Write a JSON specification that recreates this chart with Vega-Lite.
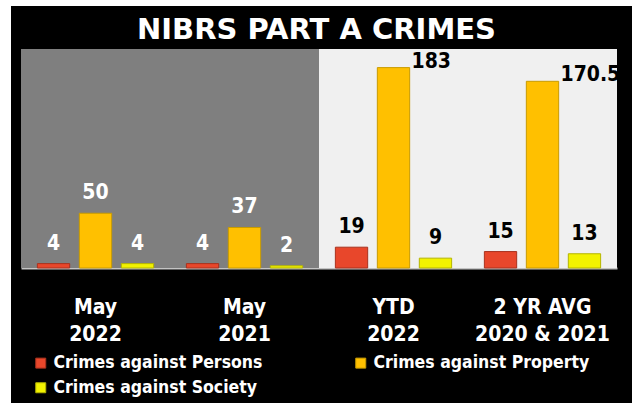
{
  "$schema": "https://vega.github.io/schema/vega-lite/v6.json",
  "width": 621,
  "height": 397,
  "autosize": {"type": "none"},
  "padding": {"left": 11, "top": 6, "right": 0, "bottom": 0},
  "background": "#ffffff",
  "config": {
    "view": {"fill": "#000000", "stroke": null},
    "font": "DejaVu Sans Condensed"
  },
  "title": {
    "text": "NIBRS PART A CRIMES",
    "color": "#ffffff",
    "font": "DejaVu Sans",
    "fontSize": 29,
    "fontWeight": "bold",
    "anchor": "middle",
    "frame": "group",
    "baseline": "alphabetic",
    "offset": -31,
    "dy": 31,
    "dx": -5
  },
  "data": {
    "values": [
      {"period": "May 2022", "type": "Crimes against Persons", "count": 4},
      {"period": "May 2022", "type": "Crimes against Property", "count": 50},
      {"period": "May 2022", "type": "Crimes against Society", "count": 4},
      {"period": "May 2021", "type": "Crimes against Persons", "count": 4},
      {"period": "May 2021", "type": "Crimes against Property", "count": 37},
      {"period": "May 2021", "type": "Crimes against Society", "count": 2},
      {"period": "YTD 2022", "type": "Crimes against Persons", "count": 19},
      {"period": "YTD 2022", "type": "Crimes against Property", "count": 183},
      {"period": "YTD 2022", "type": "Crimes against Society", "count": 9},
      {"period": "2 YR AVG 2020 & 2021", "type": "Crimes against Persons", "count": 15},
      {"period": "2 YR AVG 2020 & 2021", "type": "Crimes against Property", "count": 170.5},
      {"period": "2 YR AVG 2020 & 2021", "type": "Crimes against Society", "count": 13}
    ]
  },
  "encoding": {
    "x": {
      "field": "period",
      "type": "nominal",
      "sort": ["May 2022", "May 2021", "YTD 2022", "2 YR AVG 2020 & 2021"],
      "scale": {"range": [10, 606], "paddingInner": 0, "paddingOuter": 0},
      "axis": {
        "title": null,
        "orient": "bottom",
        "offset": -135,
        "domainColor": "#c4c4c4",
        "domainWidth": 2,
        "ticks": false,
        "labelAngle": 0,
        "labelColor": "#ffffff",
        "labelFont": "DejaVu Sans Condensed",
        "labelFontSize": 21,
        "labelFontWeight": "bold",
        "labelBaseline": "top",
        "labelPadding": 28,
        "labelLineHeight": 27,
        "labelExpr": "datum.value == '2 YR AVG 2020 & 2021' ? ['2 YR AVG', '2020 & 2021'] : split(datum.value, ' ')"
      }
    }
  },
  "layer": [
    {
      "transform": [{"aggregate": [{"op": "count", "as": "n"}], "groupby": ["period"]}],
      "mark": {"type": "bar"},
      "encoding": {
        "y": {"datum": 200, "type": "quantitative", "scale": {"domain": [0, 200], "range": [262, 43], "nice": false, "zero": true}, "axis": null},
        "y2": {"datum": 0},
        "fill": {
          "condition": {"test": "datum.period == 'May 2022' || datum.period == 'May 2021'", "value": "#7f7f7f"},
          "value": "#f0f0f0"
        }
      }
    },
    {
      "mark": {"type": "bar", "strokeWidth": 1},
      "encoding": {
        "xOffset": {
          "field": "type",
          "type": "nominal",
          "scale": {"paddingInner": 0.23, "paddingOuter": 0.39}
        },
        "y": {"field": "count", "type": "quantitative"},
        "y2": {"datum": 0},
        "fill": {
          "field": "type",
          "type": "nominal",
          "scale": {
            "domain": ["Crimes against Persons", "Crimes against Property", "Crimes against Society"],
            "range": ["#e8472b", "#ffc000", "#f2f200"]
          },
          "legend": {
            "title": null,
            "orient": "none",
            "legendX": 21,
            "legendY": 348,
            "direction": "horizontal",
            "columns": 2,
            "columnPadding": 89,
            "rowPadding": 6,
            "symbolType": "square",
            "symbolSize": 100,
            "symbolStrokeWidth": 1,
            "labelColor": "#ffffff",
            "labelFont": "DejaVu Sans Condensed",
            "labelFontSize": 17.5,
            "labelFontWeight": "bold",
            "labelOffset": 4,
            "labelLimit": 400
          }
        },
        "stroke": {
          "field": "type",
          "type": "nominal",
          "scale": {
            "domain": ["Crimes against Persons", "Crimes against Property", "Crimes against Society"],
            "range": ["#a8321e", "#c89b00", "#b5b500"]
          },
          "legend": null
        }
      }
    },
    {
      "transform": [{"filter": "datum.count < 150"}],
      "mark": {"type": "text", "fontSize": 21, "fontWeight": "bold", "baseline": "middle", "dy": -20},
      "encoding": {
        "xOffset": {"field": "type", "type": "nominal"},
        "y": {"field": "count", "type": "quantitative"},
        "text": {"field": "count", "type": "quantitative"},
        "color": {
          "condition": {"test": "datum.period == 'May 2022' || datum.period == 'May 2021'", "value": "#ffffff"},
          "value": "#000000"
        }
      }
    },
    {
      "transform": [{"filter": "datum.count >= 150"}],
      "mark": {"type": "text", "fontSize": 21, "fontWeight": "bold", "baseline": "middle", "align": "left", "dx": 18, "dy": -6},
      "encoding": {
        "xOffset": {"field": "type", "type": "nominal"},
        "y": {"field": "count", "type": "quantitative"},
        "text": {"field": "count", "type": "quantitative"},
        "color": {"value": "#000000"}
      }
    }
  ]
}
